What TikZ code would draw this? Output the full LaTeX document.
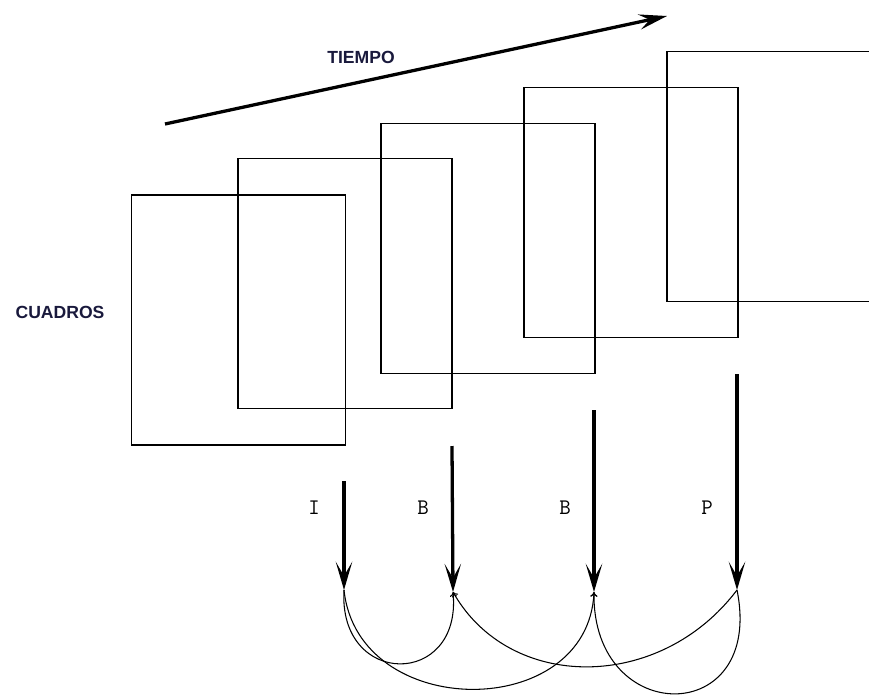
\documentclass[tikz,border=0pt]{standalone}
\usepackage{fontspec}
\newfontfamily\labelfont{Liberation Sans}
\usetikzlibrary{arrows.meta}
\definecolor{ink}{RGB}{25,25,60}

\begin{document}
\begin{tikzpicture}[x=0.03cm,y=-0.03cm,
    frame/.style={draw,line width=1.1pt,minimum width=6.42cm,minimum height=7.5cm,inner sep=0pt},
    drop/.style={-{Stealth[length=24pt,width=14pt,inset=12pt]},line width=2.8pt},
    ref/.style={-{To[length=4pt,width=6pt]},line width=0.9pt},
    time/.style={-{Stealth[length=24pt,width=13pt,inset=9pt]},line width=2.8pt},
    word/.style={font=\labelfont\bfseries\fontsize{15}{18}\selectfont,text=ink},
    kind/.style={font=\ttfamily\fontsize{19}{22}\selectfont},
    point/.style={inner sep=0pt,minimum size=0pt}]
   \clip (0,0) rectangle (869,695);
   % frames, one behind the other
   \node[frame] (f1) at (238.5,320) {};
   \node[frame] (f2) at (345,283.5) {};
   \node[frame] (f3) at (488,248.5) {};
   \node[frame] (f4) at (631,212.5) {};
   \node[frame] (f5) at (774,176.5) {};
   % titles
   \node[word] (tiempo) at (361,57) {TIEMPO};
   \node[word] (cuadros) at (60,312) {CUADROS};
   \coordinate (t0) at (165,124);
   \coordinate (t1) at (667,16);
   \draw[time] (t0) -- (t1);
   % frame types
   \node[kind] (lI) at (314,508) {I};
   \node[kind] (lB1) at (423,508) {B};
   \node[kind] (lB2) at (565,508) {B};
   \node[kind] (lP) at (707,508) {P};
   \coordinate (sI) at (344,481);
   \coordinate (sB1) at (452,446);
   \coordinate (sB2) at (594,410);
   \coordinate (sP) at (737,374);
   \coordinate (pI) at (344,590);
   \coordinate (pB1) at (453,592);
   \coordinate (pB2) at (594,592);
   \coordinate (pP) at (737,590);
   \draw[drop] (sI) -- (pI);
   \draw[drop] (sB1) -- (pB1);
   \draw[drop] (sB2) -- (pB2);
   \draw[drop] (sP) -- (pP);
   % references
   \draw[ref] (pI) .. controls (338,688) and (462,688) .. (pB1);
   \draw[ref] (pI) .. controls (358,722) and (588,722) .. (pB2);
   \draw[ref] (pP) .. controls (660,692) and (510,692) .. (pB1);
   \draw[ref] (pP) .. controls (765,728) and (592,728) .. (pB2);
\end{tikzpicture}
\end{document}
